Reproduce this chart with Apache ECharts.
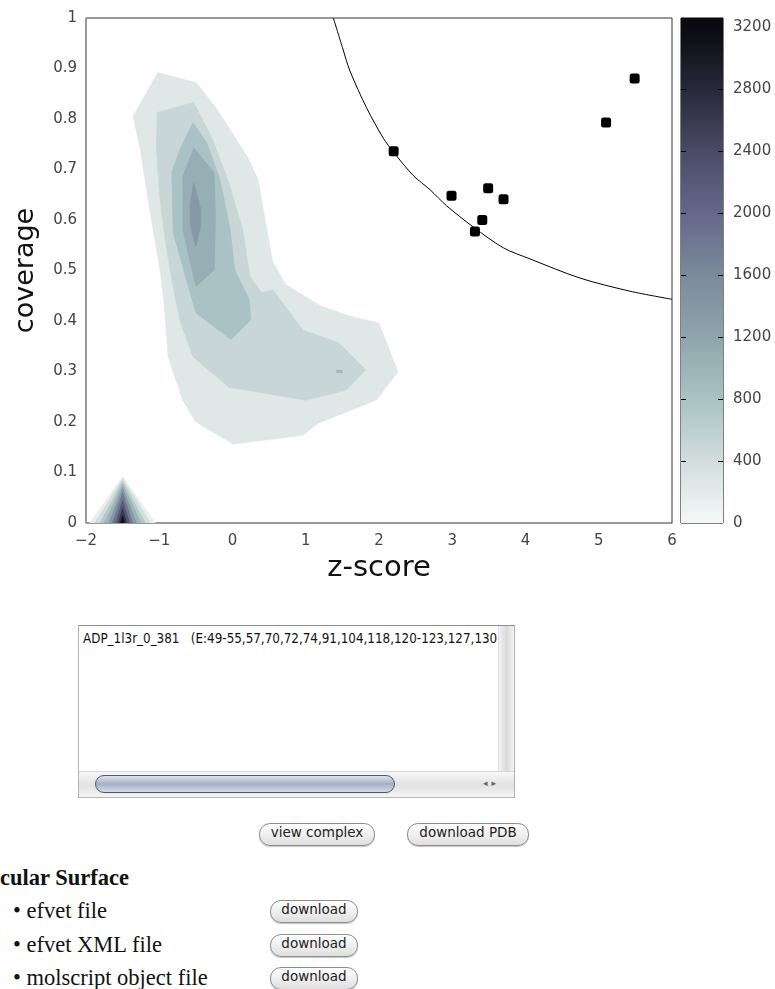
<!DOCTYPE html>
<html>
<head>
<meta charset="utf-8">
<title>coverage vs z-score</title>
<script src="https://cdn.jsdelivr.net/npm/echarts@6/dist/echarts.min.js"></script>
<style>
body { margin: 0; background: #fff; width: 775px; height: 989px; position: relative; overflow: hidden; }
#chart { position: absolute; left: 0; top: 0; width: 775px; height: 600px; }
.listbox { position: absolute; left: 78px; top: 625px; width: 435px; height: 171px;
  border: 1px solid #b4b4b4; border-top-color: #8c8c8c; background: #fff; }
.listtext { position: absolute; left: 4px; top: 5px; font: 13.3px "DejaVu Sans Condensed", "DejaVu Sans", sans-serif; color: #111; white-space: nowrap; }
.vscroll { position: absolute; right: 0; top: 0; width: 15px; bottom: 25px;
  background: linear-gradient(to right, #f2f2f2, #dadada 50%, #f4f4f4); border-left: 1px solid #e0e0e0; }
.hscroll { position: absolute; left: 0; right: 0; bottom: 0; height: 25px;
  background: linear-gradient(#f6f6f6, #e2e2e2 55%, #f4f4f4); border-top: 1px solid #d8d8d8; }
.thumb { position: absolute; left: 16px; top: 3px; width: 298px; height: 16px; border-radius: 9px;
  border: 1.5px solid #4e5868; background: linear-gradient(#dde4ee, #a3b0c4 50%, #d4dce8); }
.arrows { position: absolute; right: 14px; top: 6px; font: 9px "DejaVu Sans", sans-serif; color: #666; letter-spacing: 4px; }
.btn { position: absolute; height: 21px; line-height: 21px; border: 1px solid #8e8e8e; border-radius: 11px;
  background: linear-gradient(#ffffff, #ececec 60%, #dedede); box-shadow: 0 1px 1px #c4c4c4;
  font: 13.5px "DejaVu Sans", sans-serif; color: #222; text-align: center; }
.head { position: absolute; left: 0; top: 865px; font: bold 22.5px "Liberation Serif", serif; color: #111; }
.item { position: absolute; left: 13px; font: 22.5px "Liberation Serif", serif; color: #111; white-space: nowrap; }
</style>
</head>
<body>
<div id="chart"></div>

<div class="listbox">
  <div class="listtext">ADP_1l3r_0_381&nbsp;&nbsp;&nbsp;(E:49-55,57,70,72,74,91,104,118,120-123,127,130</div>
  <div class="vscroll"></div>
  <div class="hscroll"><div class="thumb"></div><div class="arrows">◂▸</div></div>
</div>

<div class="btn" style="left:259px;top:823px;width:114px;">view complex</div>
<div class="btn" style="left:407px;top:823px;width:120px;">download PDB</div>

<div class="head">cular Surface</div>
<div class="item" style="top:898px;">• efvet file</div>
<div class="item" style="top:932px;">• efvet XML file</div>
<div class="item" style="top:965px;">• molscript object file</div>
<div class="btn" style="left:270px;top:900px;width:86px;">download</div>
<div class="btn" style="left:270px;top:934px;width:86px;">download</div>
<div class="btn" style="left:270px;top:967px;width:86px;">download</div>

<script>
// density colour scale, one colour per 400 step (0 .. 3200)
var palette = ['#f6f8f8', '#d2dddd', '#a9c2c3', '#8fa5ad', '#7b8a9b', '#65688a', '#4a4a66', '#28283a', '#0a0a10'];
var cbMax = 3260;
var cbLabels = [0, 400, 800, 1200, 1600, 2000, 2400, 2800, 3200];
var cbTicks = [400, 800, 1200, 1600, 2000, 2400, 2800];

// filled contour bands of the density, [z-score, coverage] vertices
var contourLevels = [255, 500, 800, 1080, 1380, 900];
var contourPolys = [
  [[-1.02, 0.892], [-0.49, 0.872], [-0.21, 0.819], [0.20, 0.726], [0.35, 0.680], [0.47, 0.581],
   [0.55, 0.517], [0.73, 0.472], [1.20, 0.430], [1.60, 0.410], [2.00, 0.396], [2.26, 0.299],
   [1.96, 0.243], [1.18, 0.198], [0.96, 0.174], [0.01, 0.156], [-0.50, 0.200], [-0.68, 0.243],
   [-0.88, 0.329], [-0.94, 0.442], [-0.99, 0.501], [-1.13, 0.620], [-1.26, 0.740], [-1.36, 0.805]],
  [[-1.03, 0.813], [-0.53, 0.833], [-0.27, 0.759], [-0.05, 0.674], [0.14, 0.581], [0.24, 0.488],
   [0.40, 0.456], [0.55, 0.462], [0.96, 0.382], [1.45, 0.357], [1.82, 0.303], [1.55, 0.263],
   [1.00, 0.243], [-0.05, 0.269], [-0.54, 0.329], [-0.72, 0.402], [-0.83, 0.482], [-0.92, 0.561],
   [-0.99, 0.640], [-1.04, 0.740]],
  [[-0.54, 0.793], [-0.35, 0.753], [-0.17, 0.680], [-0.03, 0.581], [0.03, 0.501], [0.23, 0.442],
   [0.25, 0.402], [-0.02, 0.363], [-0.50, 0.416], [-0.62, 0.476], [-0.81, 0.575], [-0.83, 0.694],
   [-0.72, 0.740]],
  [[-0.53, 0.743], [-0.25, 0.694], [-0.23, 0.601], [-0.25, 0.501], [-0.50, 0.468], [-0.68, 0.581],
   [-0.68, 0.686]],
  [[-0.53, 0.674], [-0.43, 0.620], [-0.43, 0.591], [-0.50, 0.547], [-0.58, 0.591], [-0.58, 0.630]],
  [[1.42, 0.303], [1.50, 0.303], [1.50, 0.297], [1.42, 0.297]]
];

// sharp peak at z = -1.5, coverage = 0
var spikeLevels = [150, 400, 700, 1000, 1400, 1800, 2200, 2600, 3100];
var spikePolys = [
  [[-1.95, 0], [-1.50, 0.092], [-1.05, 0]],
  [[-1.88, 0], [-1.50, 0.088], [-1.12, 0]],
  [[-1.81, 0], [-1.50, 0.083], [-1.19, 0]],
  [[-1.75, 0], [-1.50, 0.077], [-1.25, 0]],
  [[-1.69, 0], [-1.50, 0.070], [-1.31, 0]],
  [[-1.64, 0], [-1.50, 0.060], [-1.36, 0]],
  [[-1.60, 0], [-1.50, 0.045], [-1.40, 0]],
  [[-1.56, 0], [-1.50, 0.030], [-1.44, 0]],
  [[-1.53, 0], [-1.50, 0.015], [-1.47, 0]]
];

// selected sites
var sites = [[2.20, 0.736], [2.99, 0.648], [3.49, 0.663], [3.70, 0.641], [3.41, 0.600],
             [3.31, 0.577], [5.10, 0.793], [5.49, 0.880]];

// threshold curve
var curve = [[1.377, 1.0], [1.50, 0.942], [1.604, 0.895], [1.831, 0.822], [2.059, 0.762],
             [2.195, 0.735], [2.468, 0.688], [2.696, 0.660], [2.924, 0.628], [3.288, 0.586],
             [3.697, 0.545], [4.061, 0.523], [4.744, 0.485], [5.427, 0.459], [6.0, 0.443]];

var polys = contourPolys.concat(spikePolys);
var polyData = contourLevels.concat(spikeLevels).map(function (lv, i) { return [lv, i]; });

var stops = cbLabels.map(function (v, i) { return { offset: v / cbMax, color: palette[i] }; });
stops.push({ offset: 1, color: palette[palette.length - 1] });

var tickFont = { fontFamily: 'DejaVu Sans', fontSize: 15, color: '#444' };

var myChart = echarts.init(document.getElementById('chart'));
myChart.setOption({
  animation: false,
  grid: [
    { left: 86, top: 18, width: 586, height: 505, show: true, borderColor: '#333', borderWidth: 1 },
    { left: 681, top: 18, width: 42, height: 505, show: true, borderColor: '#000', borderWidth: 1 }
  ],
  visualMap: {
    show: false, type: 'continuous', seriesIndex: 0, dimension: 0,
    min: 0, max: 3200, inRange: { color: palette }
  },
  xAxis: [
    {
      gridIndex: 0, type: 'value', min: -2, max: 6, interval: 1,
      name: 'z-score', nameLocation: 'middle', nameGap: 29,
      nameTextStyle: { fontFamily: 'DejaVu Sans', fontSize: 29, color: '#111' },
      axisLine: { onZero: false, lineStyle: { color: '#999' } }, axisTick: { show: false }, splitLine: { show: false },
      axisLabel: Object.assign({ margin: 11, formatter: function (v) { return v < 0 ? '\u2212' + Math.abs(v) : String(v); } }, tickFont)
    },
    { gridIndex: 1, type: 'category', data: ['c'], show: false }
  ],
  yAxis: [
    {
      gridIndex: 0, type: 'value', min: 0, max: 1, interval: 0.1,
      name: 'coverage', nameLocation: 'middle', nameGap: 47,
      nameTextStyle: { fontFamily: 'DejaVu Sans', fontSize: 27, color: '#111' },
      axisLine: { onZero: false, lineStyle: { color: '#999' } }, axisTick: { show: false }, splitLine: { show: false },
      axisLabel: Object.assign({ margin: 9 }, tickFont)
    },
    {
      gridIndex: 1, type: 'value', min: 0, max: cbMax, position: 'right', z: 5,
      axisLine: { show: false }, splitLine: { show: false },
      axisTick: { show: true, inside: true, length: 5, lineStyle: { color: '#000' }, customValues: cbTicks },
      axisLabel: Object.assign({ margin: 10, customValues: cbLabels, formatter: function (v) { return String(v); } }, tickFont)
    },
    {
      gridIndex: 1, type: 'value', min: 0, max: cbMax, position: 'left', z: 5,
      axisLine: { show: false }, splitLine: { show: false },
      axisTick: { show: true, inside: true, length: 5, lineStyle: { color: '#000' }, customValues: cbTicks },
      axisLabel: { show: false }
    }
  ],
  series: [
    {
      type: 'custom', coordinateSystem: 'cartesian2d', xAxisIndex: 0, yAxisIndex: 0,
      clip: true, silent: true, data: polyData,
      renderItem: function (params, api) {
        var pts = polys[api.value(1)].map(function (p) { return api.coord(p); });
        var c = api.visual('color');
        return { type: 'polygon', shape: { points: pts }, style: { fill: c, stroke: c, lineWidth: 0.5 } };
      }
    },
    {
      type: 'line', xAxisIndex: 0, yAxisIndex: 0, data: curve, smooth: 0.3, showSymbol: false,
      clip: true, silent: true, lineStyle: { color: '#000', width: 1 }, z: 3
    },
    {
      type: 'scatter', xAxisIndex: 0, yAxisIndex: 0, data: sites, symbol: 'roundRect', symbolSize: 10,
      itemStyle: { color: '#000', opacity: 1 }, z: 4
    },
    {
      type: 'bar', xAxisIndex: 1, yAxisIndex: 1, data: [cbMax], barWidth: '100%', silent: true,
      itemStyle: { color: new echarts.graphic.LinearGradient(0, 1, 0, 0, stops) }
    }
  ]
});
</script>
</body>
</html>
